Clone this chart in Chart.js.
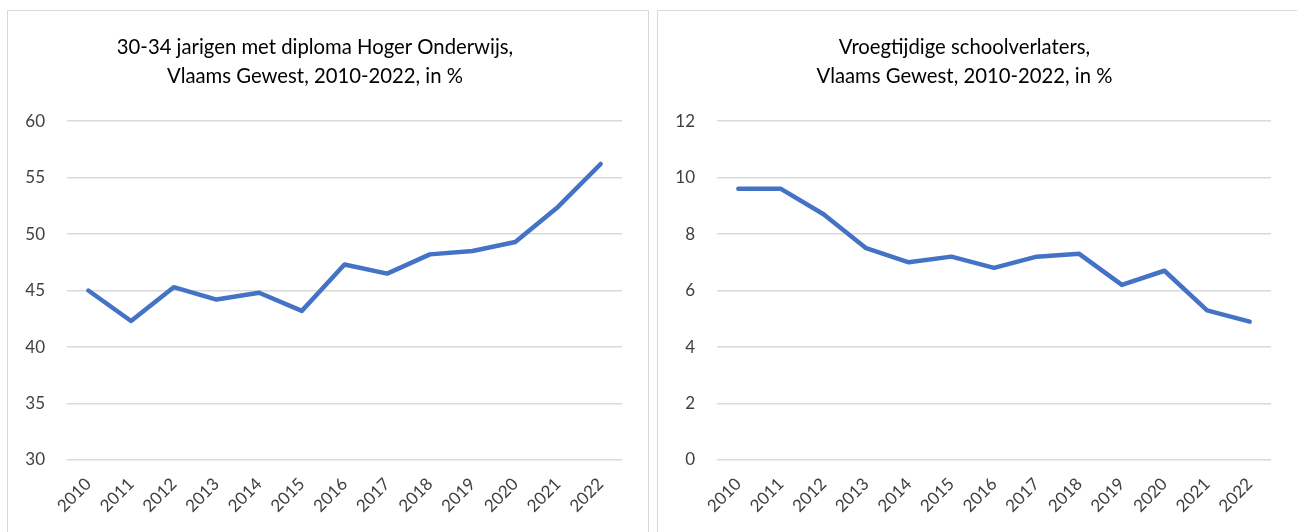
<!DOCTYPE html>
<html>
<head>
<meta charset="utf-8">
<script src="https://cdn.jsdelivr.net/npm/chart.js@4/dist/chart.umd.min.js"></script>
<style>
  body { margin: 0; background: #fff; width: 1297px; height: 532px; overflow: hidden; position: relative; }
  .panel { position: absolute; top: 10px; height: 540px; border: 1px solid #d9d9d9; background: #fff; }
  #p1 { left: 7px; width: 640px; }
  #p2 { left: 657px; width: 660px; }
  canvas { position: absolute; left: 0; top: 0; }
</style>
</head>
<body>
<div class="panel" id="p1"><canvas id="chart1" width="640" height="521"></canvas></div>
<div class="panel" id="p2"><canvas id="chart2" width="639" height="521"></canvas></div>
<script>
// jaren
const years = ['2010','2011','2012','2013','2014','2015','2016','2017','2018','2019','2020','2021','2022'];
// 30-34 jarigen met diploma hoger onderwijs (%)
const hogerOnderwijs = [45.0, 42.3, 45.3, 44.2, 44.8, 43.2, 47.3, 46.5, 48.2, 48.5, 49.3, 52.4, 56.2];
// vroegtijdige schoolverlaters (%)
const schoolverlaters = [9.6, 9.6, 8.7, 7.5, 7.0, 7.2, 6.8, 7.2, 7.3, 6.2, 6.7, 5.3, 4.9];

const fontFam = 'Lato, "Open Sans", sans-serif';

function makeChart(id, titleLines, values, yMin, yMax, yStep) {
  const ctx = document.getElementById(id).getContext('2d');
  return new Chart(ctx, {
    type: 'line',
    data: {
      labels: years,
      datasets: [{
        data: values,
        borderColor: '#4472C4',
        borderWidth: 4.5,
        borderJoinStyle: 'round',
        borderCapStyle: 'round',
        pointRadius: 0,
        tension: 0,
        fill: false
      }]
    },
    options: {
      responsive: false,
      animation: false,
      layout: { padding: { left: 0, right: 26, top: 0, bottom: 0 } },
      plugins: {
        legend: { display: false },
        tooltip: { enabled: false },
        title: {
          display: true,
          text: titleLines,
          color: '#000',
          font: { family: fontFam, size: 20.3, weight: 'normal', lineHeight: 1.43 },
          padding: { top: 22, bottom: 30 }
        }
      },
      scales: {
        x: {
          offset: true,
          grid: { display: false },
          border: { display: false },
          ticks: {
            color: '#404040',
            font: { family: fontFam, size: 17 },
            minRotation: 45,
            maxRotation: 45,
            autoSkip: false,
            padding: 6
          },
          afterFit: (s) => { s.height = 72; }
        },
        y: {
          min: yMin,
          max: yMax,
          grid: { color: '#d9d9d9', lineWidth: 1.5, drawTicks: false },
          border: { display: false },
          ticks: {
            stepSize: yStep,
            color: '#404040',
            font: { family: fontFam, size: 17 },
            padding: 22
          },
          afterFit: (s) => { s.width = 59; }
        }
      }
    }
  });
}

makeChart('chart1', ['30-34 jarigen met diploma Hoger Onderwijs,', 'Vlaams Gewest, 2010-2022, in %'], hogerOnderwijs, 30, 60, 5);
makeChart('chart2', ['Vroegtijdige schoolverlaters,', 'Vlaams Gewest, 2010-2022, in %'], schoolverlaters, 0, 12, 2);
</script>
</body>
</html>
